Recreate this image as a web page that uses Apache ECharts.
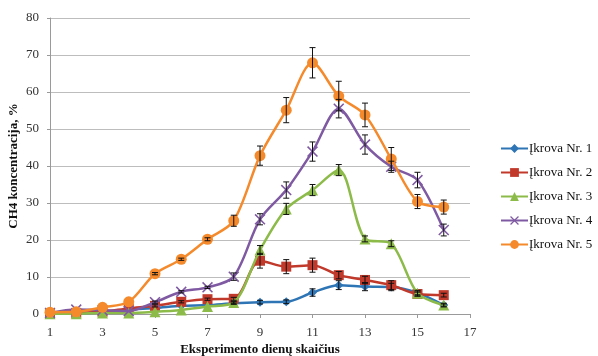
<!DOCTYPE html>
<html>
<head>
<meta charset="utf-8">
<script src="https://cdn.jsdelivr.net/npm/echarts@6/dist/echarts.min.js"></script>
<style>
html,body{margin:0;padding:0;background:#fff;}
#chart{width:598px;height:356px;}
</style>
</head>
<body>
<div id="chart"></div>
<script>
const days = [1,2,3,4,5,6,7,8,9,10,11,12,13,14,15,16];
const seriesNames = ['Įkrova Nr. 1','Įkrova Nr. 2','Įkrova Nr. 3','Įkrova Nr. 4','Įkrova Nr. 5'];
const s1 = [0.2,0.2,0.5,1.2,1.6,2.2,2.4,2.9,3.2,3.3,5.8,7.8,7.4,7.3,5.7,2.4];
const s2 = [0.2,0.3,0.6,1.5,2.2,3.3,4.0,4.1,14.4,12.8,13.2,10.5,9.2,7.8,5.4,5.1];
const s3 = [0.1,0.1,0.3,0.3,0.6,1.1,2.0,3.1,17.3,28.4,33.5,38.9,20.3,19.0,5.6,2.4];
const s4 = [0.3,1.2,1.0,0.8,3.2,6.0,7.2,10.1,25.6,33.5,43.9,55.5,45.8,39.8,36.2,22.7];
const s5 = [0.5,0.6,1.8,3.3,10.9,14.8,20.2,25.2,42.8,55.1,67.9,58.9,53.8,41.9,30.4,28.9];
const e1 = [0,0,0,0,0,0,0,0.3,0.5,0.5,1.0,1.2,1.1,1.0,0.5,0.3];
const e2 = [0,0,0,0,0.3,0.3,0.3,0.4,2.0,1.9,1.9,1.0,1.0,1.2,0.5,0.5];
const e3 = [0,0,0,0,0,0,0,0.3,1.2,1.5,1.5,1.5,0.8,0.8,0.8,0.5];
const e4 = [0,0,0,0,0.3,0.3,0.3,1.0,1.5,2.2,2.6,2.5,2.6,1.5,2.1,1.6];
const e5 = [0,0,0,0,0.3,0.3,0.4,1.5,2.6,3.4,4.1,4.0,3.2,3.1,1.9,1.9];
const xTicks = {min:1, max:17, interval:2};
const yTicks = {min:0, max:80, interval:10};

const colors = ['#2e75b6','#c0392b','#8dbb4a','#7f5aa2','#f58a2c'];
const symbols = ['diamond','rect','triangle','path://M0,1L1,0L5,4L9,0L10,1L6,5L10,9L9,10L5,6L1,10L0,9L4,5Z','circle'];
const symbolSizes = [9,10,11,11,11];
const values = [s1,s2,s3,s4,s5];
const errors = [e1,e2,e3,e4,e5];
const serif = '"Liberation Serif","DejaVu Serif",serif';

function errRender(params, api){
  const x = api.value(0), v = api.value(1), e = api.value(2);
  if (!(e > 0)) return null;
  const hi = api.coord([x, v + e]), lo = api.coord([x, v - e]);
  const w = 3;
  const st = {stroke:'#111', lineWidth:1};
  return {type:'group', children:[
    {type:'line', shape:{x1:hi[0],y1:hi[1],x2:lo[0],y2:lo[1]}, style:st},
    {type:'line', shape:{x1:hi[0]-w,y1:hi[1],x2:hi[0]+w,y2:hi[1]}, style:st},
    {type:'line', shape:{x1:lo[0]-w,y1:lo[1],x2:lo[0]+w,y2:lo[1]}, style:st}
  ]};
}

const series = [];
values.forEach((vals, i) => {
  series.push({
    name: seriesNames[i],
    type: 'line',
    smooth: 0.3,
    data: days.map((d, j) => [d, vals[j]]),
    symbol: symbols[i],
    symbolSize: symbolSizes[i],
    showAllSymbol: true,
    lineStyle: {width: 2.5, color: colors[i]},
    itemStyle: {color: colors[i]},
    z: 2 + i,
    animation: false
  });
});
values.forEach((vals, i) => {
  series.push({
    name: 'err' + i,
    type: 'custom',
    renderItem: errRender,
    data: days.map((d, j) => [d, vals[j], errors[i][j]]),
    z: 20,
    silent: true,
    animation: false
  });
});

const chart = echarts.init(document.getElementById('chart'), null, {renderer:'canvas'});
chart.setOption({
  animation: false,
  backgroundColor: '#fff',
  grid: {left: 50, right: 128, top: 18, bottom: 42, containLabel: false, outerBoundsMode: 'none'},
  legend: {
    data: seriesNames,
    orient: 'vertical',
    left: 495,
    top: 137,
    itemWidth: 27,
    itemHeight: 11,
    itemGap: 11,
    textStyle: {fontFamily: serif, fontSize: 13, color: '#111', padding: [0,0,0,-4]}
  },
  xAxis: {
    type: 'value',
    min: xTicks.min, max: xTicks.max, interval: xTicks.interval,
    name: 'Eksperimento dienų skaičius',
    nameLocation: 'middle',
    nameGap: 29,
    nameMoveOverlap: false,
    nameTextStyle: {fontFamily: serif, fontSize: 13, fontWeight: 'bold', color: '#111'},
    axisLine: {show: true, lineStyle: {color: '#9a9a9a', width: 1}},
    axisTick: {show: true, length: 4, lineStyle: {color: '#9a9a9a'}},
    axisLabel: {fontFamily: serif, fontSize: 13, color: '#333', margin: 12},
    splitLine: {show: false}
  },
  yAxis: {
    type: 'value',
    min: yTicks.min, max: yTicks.max, interval: yTicks.interval,
    name: 'CH4 koncentracija, %',
    nameLocation: 'middle',
    nameGap: 30,
    nameMoveOverlap: false,
    nameTextStyle: {fontFamily: serif, fontSize: 13, fontWeight: 'bold', color: '#111'},
    axisLine: {show: true, lineStyle: {color: '#9a9a9a', width: 1}},
    axisTick: {show: true, length: 3, lineStyle: {color: '#9a9a9a'}},
    axisLabel: {fontFamily: serif, fontSize: 13, color: '#333', margin: 11},
    splitLine: {show: true, lineStyle: {color: '#bdbdbd', width: 1}}
  },
  series: series
});
</script>
</body>
</html>
